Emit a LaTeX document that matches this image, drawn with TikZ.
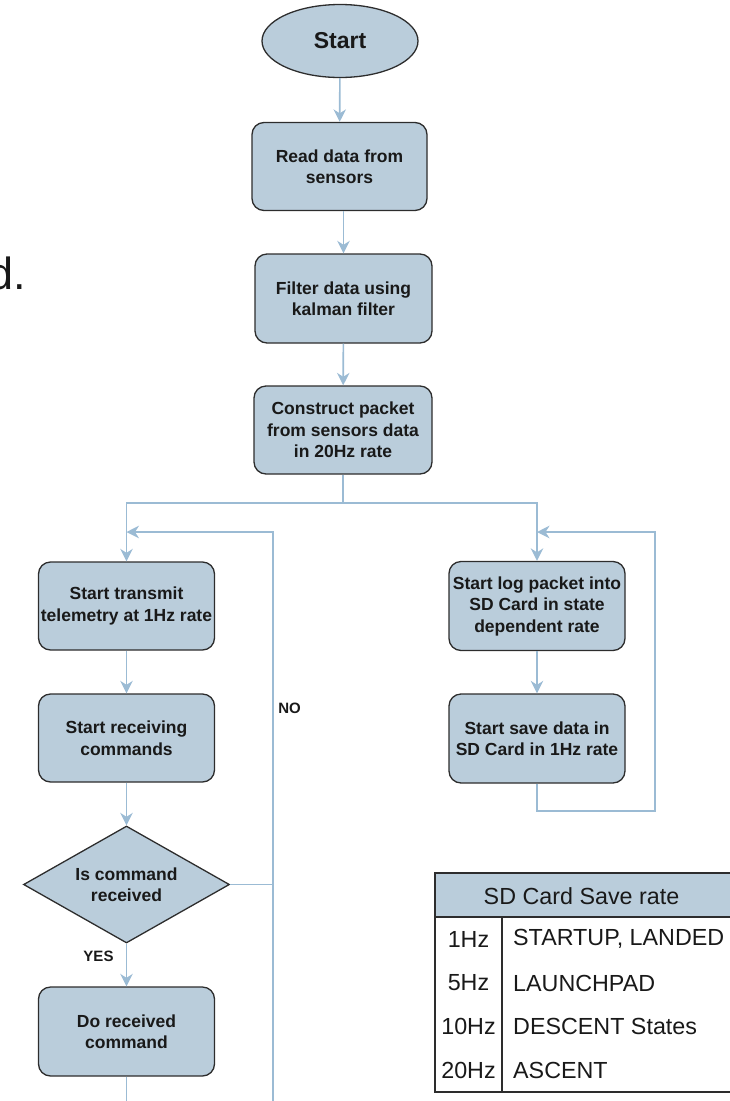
\documentclass[tikz,border=0pt]{standalone}
\usepackage{fontspec}
\setmainfont{Liberation Sans}
\usetikzlibrary{arrows.meta,shapes.geometric}

\definecolor{boxfill}{RGB}{186,205,219}
\definecolor{boxedge}{RGB}{45,45,45}
\definecolor{wire}{RGB}{155,187,212}
\definecolor{ink}{RGB}{25,25,25}

\tikzset{
  stepbox/.style={rectangle, rounded corners=12pt, draw=boxedge, line width=1.3pt,
    fill=boxfill, minimum width=176pt, minimum height=88pt, align=center,
    text=ink, inner sep=2pt, font=\bfseries\fontsize{17.5}{21.5}\selectfont},
  terminal/.style={ellipse, draw=boxedge, line width=1.3pt, fill=boxfill,
    minimum width=156pt, minimum height=73pt, text=ink,
    font=\bfseries\fontsize{23}{27}\selectfont},
  decision/.style={diamond, draw=boxedge, line width=1.3pt, fill=boxfill,
    minimum width=206pt, minimum height=117pt, inner sep=0pt, aspect=1.76,
    align=center, text=ink, font=\bfseries\fontsize{17.5}{21.5}\selectfont},
  wireline/.style={draw=wire, line width=1.6pt},
  flow/.style={wireline, -{Stealth[length=12.5pt,width=12.5pt,inset=4pt]}},
  tag/.style={text=ink, font=\bfseries\fontsize{15}{18}\selectfont},
  cell/.style={text=ink, font=\fontsize{23.3}{27}\selectfont, inner sep=0pt},
}

\begin{document}
\begin{tikzpicture}[x=1pt,y=-1pt]
  \useasboundingbox (0,0) rectangle (729,1101);

  % fragment of a caption cut by the left edge
  \node[anchor=base east, text=ink, font=\fontsize{45}{50}\selectfont, inner sep=0pt]
    (caption) at (26,289) {d.};

  % main column
  \node[terminal] (start) at (340,41) {Start};
  \node[stepbox, minimum width=175pt] (read) at (339.5,166.5) {Read data from\\sensors};
  \node[stepbox, minimum width=177pt, minimum height=89pt] (filter) at (343.5,298.5) {Filter data using\\kalman filter};
  \node[stepbox, minimum width=178pt] (construct) at (343,430) {Construct packet\\from sensors data\\in 20Hz rate};

  % telemetry branch
  \node[stepbox] (transmit) at (126.5,606) {Start transmit\\telemetry at 1Hz rate};
  \node[stepbox] (receive) at (126.5,738) {Start receiving\\commands};
  \node[decision] (decide) at (126.5,884.5) {Is command\\received};
  \node[stepbox, minimum height=89pt] (do) at (126.5,1031.5) {Do received\\command};

  % logging branch
  \node[stepbox, minimum height=89pt] (log) at (537,606) {Start log packet into\\SD Card in state\\dependent rate};
  \node[stepbox, minimum height=89pt] (save) at (537,738.5) {Start save data in\\SD Card in 1Hz rate};

  % junction and loop coordinates
  \coordinate (split) at (343,503);
  \coordinate (noTop) at (273,532);
  \coordinate (noBot) at (273,1110);
  \coordinate (rTop) at (655,532);
  \coordinate (rBot) at (655,811);

  % connectors
  \draw[flow] (start) -- (read);
  \draw[flow] (read.south -| filter.north) -- (filter.north);
  \draw[flow] (filter) -- (construct);
  \draw[wireline] (construct.south) -- (split);
  \draw[flow] (split) -| (transmit.north);
  \draw[flow] (split) -| (log.north);
  \draw[flow] (transmit) -- (receive);
  \draw[flow] (receive) -- (decide);
  \draw[flow] (decide) -- (do);
  \draw[wireline] (do.south) -- (do.south |- noBot);

  % NO loop back to transmitting
  \draw[wireline] (decide.east) -- (decide.east -| noTop);
  \draw[flow] (noBot) -- (noTop) -- (transmit.north |- noTop);

  % logging loop
  \draw[flow] (log) -- (save);
  \draw[flow] (save.south) |- (rBot) -- (rTop) -- (log.north |- rTop);

  % labels
  \node[tag] (yes) at (98.5,956) {YES};
  \node[tag] (no) at (289.5,708) {NO};

  % rate table
  \path[fill=boxfill] (435,873) rectangle (731,917);
  \draw[boxedge, line width=1.3pt] (435,873) rectangle (731,1092);
  \draw[boxedge, line width=1.3pt] (435,917) -- (731,917);
  \draw[boxedge, line width=1.3pt] (502,917) -- (502,1092);
  \node[cell] (head) at (581.5,896) {SD Card Save rate};
  \node[cell] (r1a) at (468.5,939) {1Hz};
  \node[cell, anchor=west] (r1b) at (513,939) {STARTUP, LANDED};
  \node[cell] (r2a) at (468.5,983) {5Hz};
  \node[cell, anchor=west] (r2b) at (513,983) {LAUNCHPAD};
  \node[cell] (r3a) at (468.5,1026) {10Hz};
  \node[cell, anchor=west] (r3b) at (513,1026) {DESCENT States};
  \node[cell] (r4a) at (468.5,1070) {20Hz};
  \node[cell, anchor=west] (r4b) at (513,1070) {ASCENT};
\end{tikzpicture}
\end{document}
